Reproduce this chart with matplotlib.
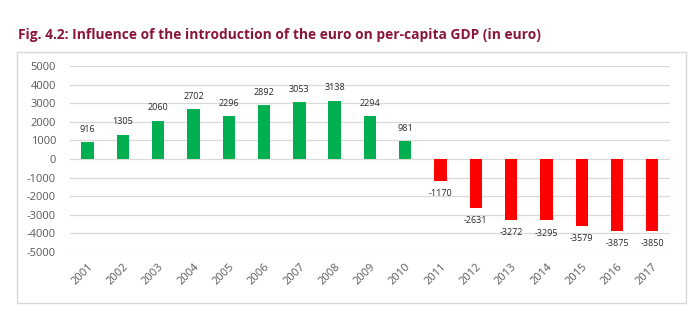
import matplotlib.pyplot as plt
from matplotlib.patches import Rectangle

years = [str(y) for y in range(2001, 2018)]
gdp_effect = [916, 1305, 2060, 2702, 2296, 2892, 3053, 3138, 2294, 981,
              -1170, -2631, -3272, -3295, -3579, -3875, -3850]
y_ticks = list(range(-5000, 5001, 1000))

GREEN = "#00B050"
RED = "#FF0000"
TEXT = "#595959"

plt.rcParams["font.family"] = ["Open Sans", "DejaVu Sans"]

fig = plt.figure(figsize=(7.0, 3.34), dpi=100)
fig.text(0.026, 0.895, "Fig. 4.2: Influence of the introduction of the euro on per-capita GDP (in euro)",
         fontsize=9.9, fontweight="bold", color="#8B1538", ha="left", va="center")

# light frame around the chart area
fig.add_artist(Rectangle((17 / 700, 1 - 303 / 334), 669 / 700, 251 / 334,
                         transform=fig.transFigure, fill=False,
                         edgecolor="#D9D9D9", linewidth=1.0))

ax = fig.add_axes([0.1, 0.2455, 0.857, 0.5565])
x = list(range(len(years)))
colors = [GREEN if v >= 0 else RED for v in gdp_effect]
ax.bar(x, gdp_effect, width=0.35, color=colors, zorder=3)

for xi, v in zip(x, gdp_effect):
    if v >= 0:
        ax.annotate(str(v), (xi, v), xytext=(0, 6), textcoords="offset points",
                    ha="center", va="bottom", fontsize=6.5, color="#262626")
    else:
        ax.annotate(str(v), (xi, v), xytext=(0, -6), textcoords="offset points",
                    ha="center", va="top", fontsize=6.5, color="#262626")

ax.set_ylim(-5000, 5000)
ax.set_xlim(-0.5, len(years) - 0.5)
ax.set_yticks(y_ticks)
ax.set_yticklabels([str(t) for t in y_ticks])
ax.set_xticks(x)
ax.set_xticklabels(years, rotation=45, ha="right", rotation_mode="anchor")
ax.tick_params(axis="both", length=0, labelsize=8, labelcolor=TEXT)
ax.tick_params(axis="y", pad=10)
ax.tick_params(axis="x", pad=7)
ax.grid(axis="y", color="#D9D9D9", linewidth=0.9, zorder=0)
for side in ax.spines.values():
    side.set_visible(False)

fig.savefig("out.png", dpi=100)
